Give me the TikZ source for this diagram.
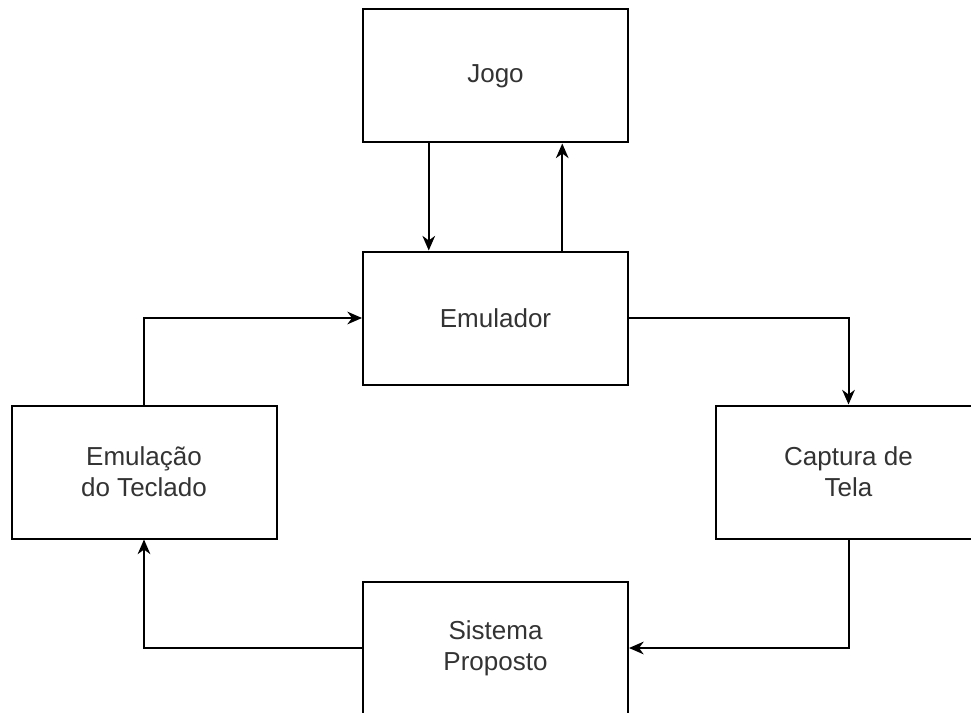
\documentclass[tikz,border=0pt]{standalone}
\usepackage{fontspec}
\setmainfont{Liberation Sans}
\usetikzlibrary{arrows.meta, positioning, calc}
\definecolor{textgray}{HTML}{333333}

\begin{document}
\begin{tikzpicture}[x=0.75pt, y=-0.75pt, >={Stealth[length=11pt, width=9.5pt, inset=3.5pt]}]
        \tikzstyle{block} = [rectangle, draw=black, line width=1.5pt, fill=white,
            minimum width=198.75pt, minimum height=99.75pt, inner sep=0pt,
            align=center, text=textgray, font=\fontsize{19.5}{23.25}\selectfont]
        \tikzstyle{link} = [->, draw=black, line width=1.5pt]

        \useasboundingbox (0,0) rectangle (971,713);
        \clip (0,0) rectangle (971,713);

        \node[block] (jogo) at (495.5,76){Jogo};
        \node[block] (emulador) at (495.5,318){Emulador};
        \node[block] (teclado) at (144,472){Emulação\\do Teclado};
        \node[block] (captura) at (848.5,472){Captura de\\Tela};
        \node[block] (sistema) at (495.5,648){Sistema\\Proposto};

        % jogo <-> emulador
        \draw[link] ($(jogo.south west)!0.25!(jogo.south east)$) -- ($(emulador.north west)!0.25!(emulador.north east)$);
        \draw[link] ($(emulador.north west)!0.75!(emulador.north east)$) -- ($(jogo.south west)!0.75!(jogo.south east)$);

        % ciclo
        \draw[link] (emulador.east) -| (captura.north);
        \draw[link] (captura.south) |- (sistema.east);
        \draw[link] (sistema.west) -| (teclado.south);
        \draw[link] (teclado.north) |- (emulador.west);

    \end{tikzpicture}
\end{document}
